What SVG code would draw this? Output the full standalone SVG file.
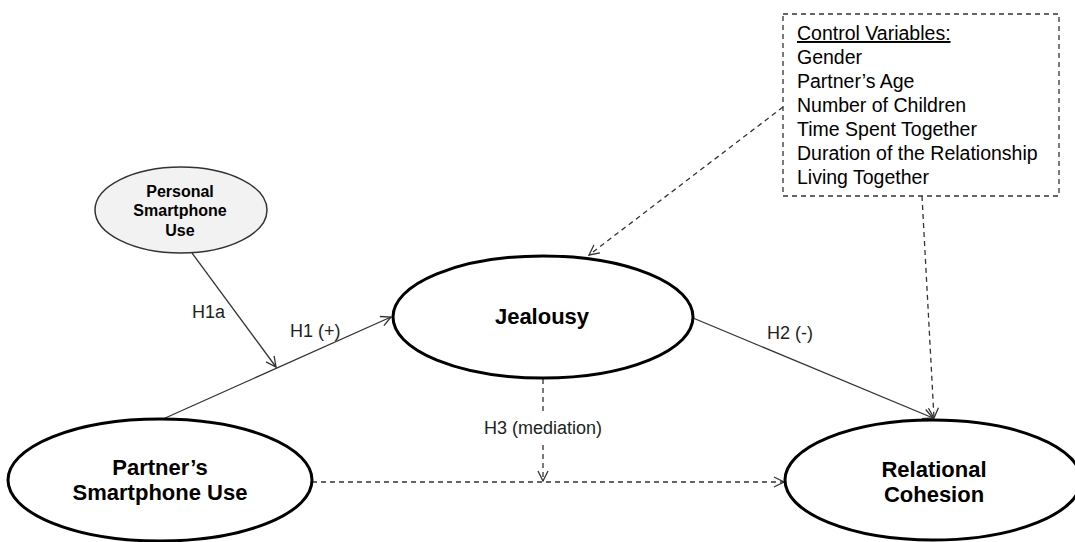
<svg xmlns="http://www.w3.org/2000/svg" width="1075" height="542" viewBox="0 0 1075 542">
<style>
.t{font-family:"Liberation Sans",Arial,sans-serif;fill:#000}
.b{font-weight:bold;text-anchor:middle}
.lbl{font-size:18px;fill:#222}
.big{fill:#fff;stroke:#000;stroke-width:3}
.c{fill:none;stroke:#333;stroke-width:1.3}
.d{stroke-dasharray:5,4}
</style>
<defs>
<marker id="ah" viewBox="0 0 12 12" refX="11" refY="6" markerWidth="12" markerHeight="12" markerUnits="userSpaceOnUse" orient="auto">
<path d="M1,1 L11,6 L1,11" fill="none" stroke="#333" stroke-width="1.3"/>
</marker>
</defs>
<rect width="1075" height="542" fill="#fff"/>
<g id="connectors">
<line class="c" x1="163" y1="419" x2="391" y2="317" marker-end="url(#ah)"/>
<line class="c" x1="192" y1="253" x2="276" y2="367" marker-end="url(#ah)"/>
<line class="c" x1="693" y1="318" x2="933" y2="418" marker-end="url(#ah)"/>
<line class="c d" x1="312" y1="482" x2="784" y2="482" marker-end="url(#ah)"/>
<line class="c d" x1="543" y1="379" x2="543" y2="412"/>
<line class="c d" x1="543" y1="445" x2="543" y2="481" marker-end="url(#ah)"/>
<line class="c d" x1="783" y1="107" x2="589" y2="255" marker-end="url(#ah)"/>
<line class="c d" x1="922" y1="196" x2="934" y2="418" marker-end="url(#ah)"/>
<text class="t lbl" x="192" y="318">H1a</text>
<text class="t lbl" x="290" y="337">H1 (+)</text>
<text class="t lbl" x="767" y="339">H2 (-)</text>
<text class="t lbl" x="543" y="434" text-anchor="middle">H3 (mediation)</text>
</g>
<g id="personal">
<ellipse cx="181" cy="210" rx="86" ry="43" fill="#f2f2f2" stroke="#333" stroke-width="1.5"/>
<text class="t b" font-size="16" x="180" y="197">Personal</text>
<text class="t b" font-size="16" x="180" y="216">Smartphone</text>
<text class="t b" font-size="16" x="180" y="236">Use</text>
</g>
<g id="jealousy">
<ellipse class="big" cx="543" cy="317" rx="150" ry="61"/>
<text class="t b" font-size="22" x="542" y="324">Jealousy</text>
</g>
<g id="partner">
<ellipse class="big" cx="160" cy="480" rx="152" ry="61"/>
<text class="t b" font-size="22" x="160" y="475">Partner’s</text>
<text class="t b" font-size="22" x="160" y="500">Smartphone Use</text>
</g>
<g id="relational">
<ellipse class="big" cx="933" cy="480" rx="148" ry="60"/>
<text class="t b" font-size="22" x="934" y="477">Relational</text>
<text class="t b" font-size="22" x="934" y="502">Cohesion</text>
</g>
<g id="controls">
<rect x="783" y="14" width="276" height="182" fill="#fff" stroke="#333" stroke-width="1.3" stroke-dasharray="5,4"/>
<g class="t" font-size="19.5">
<text x="797" y="40" text-decoration="underline">Control Variables:</text>
<text x="797" y="64">Gender</text>
<text x="797" y="88">Partner’s Age</text>
<text x="797" y="112">Number of Children</text>
<text x="797" y="136">Time Spent Together</text>
<text x="797" y="160">Duration of the Relationship</text>
<text x="797" y="184">Living Together</text>
</g>
</g>
</svg>
